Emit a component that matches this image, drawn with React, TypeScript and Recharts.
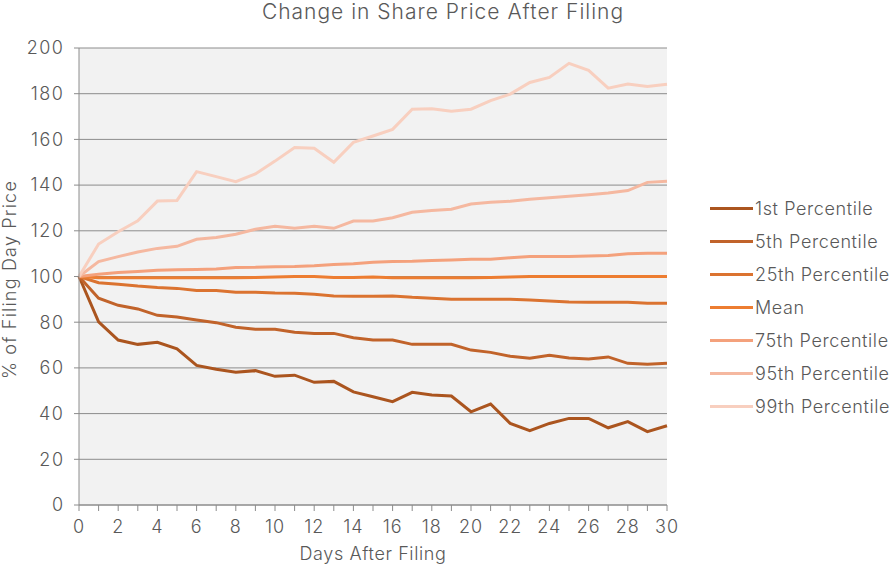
import React from "react";
import { LineChart, Line, XAxis, YAxis, CartesianGrid, Legend } from "recharts";

const days = [0, 1, 2, 3, 4, 5, 6, 7, 8, 9, 10, 11, 12, 13, 14, 15, 16, 17, 18, 19, 20, 21, 22, 23, 24, 25, 26, 27, 28, 29, 30];

const p1 = [100, 80.2, 72.2, 70.3, 71.2, 68.3, 61.1, 59.4, 58.1, 58.8, 56.3, 56.8, 53.7, 54.1, 49.5, 47.4, 45.2, 49.3, 48.1, 47.7, 40.8, 44.2, 35.7, 32.5, 35.7, 37.9, 37.9, 33.8, 36.5, 32.1, 34.7];
const p5 = [100, 90.5, 87.4, 85.8, 83.0, 82.3, 81.0, 79.8, 77.8, 76.9, 76.9, 75.6, 75.1, 75.1, 73.2, 72.2, 72.2, 70.3, 70.3, 70.3, 67.8, 66.8, 65.1, 64.2, 65.5, 64.3, 63.9, 64.8, 62.0, 61.6, 62.0];
const p25 = [100, 97.3, 96.6, 95.8, 95.2, 94.8, 93.9, 93.9, 93.1, 93.1, 92.8, 92.7, 92.2, 91.5, 91.4, 91.4, 91.5, 90.9, 90.5, 90.0, 90.0, 90.0, 90.0, 89.7, 89.3, 88.8, 88.7, 88.7, 88.7, 88.3, 88.3];
const mean = [100, 99.5, 99.5, 99.5, 99.5, 99.5, 99.5, 99.5, 99.5, 99.6, 99.8, 100, 100, 99.6, 99.6, 99.8, 99.5, 99.5, 99.5, 99.5, 99.5, 99.6, 99.8, 100, 100, 100, 100, 100, 100, 100, 100];
const p75 = [100, 101, 101.8, 102.2, 102.7, 103, 103.1, 103.3, 103.9, 104, 104.3, 104.4, 104.7, 105.2, 105.6, 106.2, 106.6, 106.7, 107, 107.2, 107.5, 107.5, 108.2, 108.7, 108.7, 108.7, 109, 109.2, 110, 110.2, 110.2];
const p95 = [100, 106.5, 108.7, 110.7, 112.3, 113.2, 116.3, 117.1, 118.5, 120.7, 122, 121.1, 122, 121.1, 124.3, 124.3, 125.7, 128.1, 128.9, 129.4, 131.7, 132.5, 132.9, 133.8, 134.5, 135.1, 135.8, 136.5, 137.6, 141.2, 141.7];
const p99 = [100, 114.2, 119.6, 124.4, 133, 133.3, 145.9, 143.7, 141.5, 144.9, 150.5, 156.5, 156.1, 150, 158.7, 161.5, 164.4, 173.2, 173.4, 172.3, 173.2, 177, 179.8, 184.9, 187.1, 193.3, 190.2, 182.4, 184.2, 183.2, 184.1];

const yTicks = [0, 20, 40, 60, 80, 100, 120, 140, 160, 180, 200];

const seriesNames = ["1st Percentile", "5th Percentile", "25th Percentile", "Mean", "75th Percentile", "95th Percentile", "99th Percentile"];
const seriesColors = ["#AB551F", "#C1632A", "#DB7330", "#ED7D31", "#F4A17C", "#F5B8A0", "#F8CFBF"];
const seriesValues = [p1, p5, p25, mean, p75, p95, p99];

const data = days.map((d, i) => {
  const row: Record<string, number> = { day: d };
  seriesNames.forEach((name, k) => {
    row[name] = seriesValues[k][i];
  });
  return row;
});

const FONT = "Inter, Lato, sans-serif";
const TEXT = "#595959";

const LegendList = (props: any) => {
  const payload = [...(props.payload || [])].sort(
    (a: any, b: any) => seriesNames.indexOf(a.value) - seriesNames.indexOf(b.value)
  );
  return (
    <div style={{ fontFamily: FONT, fontWeight: 300, fontSize: 18, letterSpacing: 0.6, color: TEXT }}>
      {payload.map((item: any) => (
        <div key={item.value} style={{ display: "flex", alignItems: "center", height: 33, whiteSpace: "nowrap" }}>
          <span style={{ display: "inline-block", width: 43, height: 3, background: item.color, marginRight: 2 }} />
          <span>{item.value}</span>
        </div>
      ))}
    </div>
  );
};

export default function App() {
  return (
    <div style={{ position: "absolute", left: 0, top: 0, width: 891, height: 565, background: "#fff" }}>
      <div
        style={{
          position: "absolute",
          left: 0,
          width: 886,
          top: 0,
          textAlign: "center",
          fontFamily: FONT,
          fontWeight: 300,
          fontSize: 21,
          letterSpacing: 1,
          color: TEXT,
          lineHeight: "23px",
        }}
      >
        Change in Share Price After Filing
      </div>
      <LineChart width={891} height={565} data={data} margin={{ top: 48, right: 224, bottom: 0, left: 19 }}>
        <CartesianGrid vertical={false} fill="#F2F2F2" stroke="#8C8C8C" strokeWidth={1} />
        <XAxis
          dataKey="day"
          type="number"
          domain={[0, 30]}
          ticks={days}
          interval={0}
          height={60}
          tickFormatter={(v) => (v % 2 === 0 ? String(v) : "")}
          stroke="#8C8C8C"
          tickSize={6}
          tickMargin={9}
          tick={{ fill: TEXT, fontSize: 18, fontFamily: FONT, fontWeight: 300, style: { letterSpacing: "1px" } }}
          label={{ value: "Days After Filing", position: "insideBottom", offset: 5, fill: TEXT, fontSize: 18, fontFamily: FONT, fontWeight: 300, style: { letterSpacing: "0.6px" } }}
        />
        <YAxis
          type="number"
          domain={[0, 200]}
          ticks={yTicks}
          interval={0}
          width={60}
          stroke="#8C8C8C"
          tickSize={5}
          tickMargin={9.5}
          tick={{ fill: TEXT, fontSize: 18, fontFamily: FONT, fontWeight: 300, style: { letterSpacing: "1.5px" } }}
          label={{ value: "% of Filing Day Price", angle: -90, position: "insideLeft", offset: 0, dx: -9, dy: 3, fill: TEXT, fontSize: 18, fontFamily: FONT, fontWeight: 300, style: { textAnchor: "middle", letterSpacing: "1.2px" } }}
        />
        <Legend
          layout="vertical"
          align="center"
          verticalAlign="middle"
          content={<LegendList />}
          wrapperStyle={{ left: 710, top: 192, width: 181 }}
        />
        {seriesNames.map((name, k) => (
          <Line
            key={name}
            type="linear"
            dataKey={name}
            name={name}
            stroke={seriesColors[k]}
            strokeWidth={3}
            dot={false}
            activeDot={false}
            isAnimationActive={false}
          />
        ))}
      </LineChart>
    </div>
  );
}
